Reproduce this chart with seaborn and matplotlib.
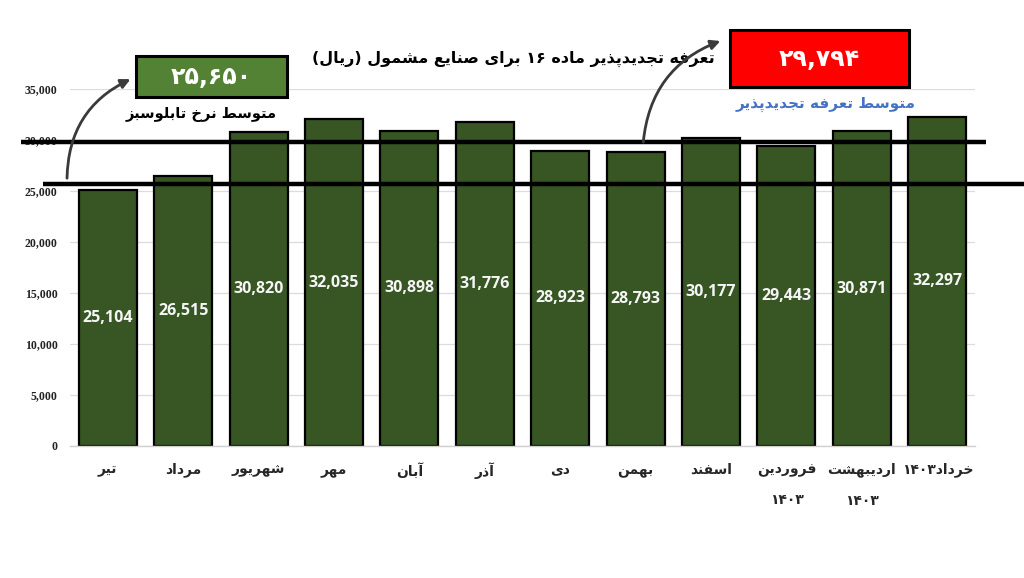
import matplotlib
matplotlib.use("Agg")
import matplotlib.pyplot as plt
import seaborn as sns
import pandas as pd
from matplotlib.patches import FancyArrowPatch, Rectangle

# ---------------- data ----------------
months = ["تیر", "مرداد", "شهریور", "مهر", "آبان", "آذر", "دی", "بهمن",
          "اسفند", "فروردین\n۱۴۰۳", "اردیبهشت\n۱۴۰۳", "خرداد۱۴۰۳"]
values = [25104, 26515, 30820, 32035, 30898, 31776, 28923, 28793,
          30177, 29443, 30871, 32297]
yticks = [0, 5000, 10000, 15000, 20000, 25000, 30000, 35000]
ytick_labels = ["0", "5,000", "10,000", "15,000", "20,000", "25,000", "30,000", "35,000"]
avg_green = 25650
avg_green_label = "۲۵,۶۵۰"
avg_red = 29794
avg_red_label = "۲۹,۷۹۴"
title = "تعرفه تجدیدپذیر ماده ۱۶ برای صنایع مشمول (ریال)"
green_caption = "متوسط نرخ تابلوسبز"
red_caption = "متوسط تعرفه تجدیدپذیر"

# ---------------- simple Persian shaping for display ----------------
FORMS = {
    "ا": ("\uFE8D", "\uFE8E", None, None),
    "آ": ("\uFE81", "\uFE82", None, None),
    "ب": ("\uFE8F", "\uFE90", "\uFE91", "\uFE92"),
    "پ": ("\uFB56", "\uFB57", "\uFB58", "\uFB59"),
    "ت": ("\uFE95", "\uFE96", "\uFE97", "\uFE98"),
    "ج": ("\uFE9D", "\uFE9E", "\uFE9F", "\uFEA0"),
    "خ": ("\uFEA5", "\uFEA6", "\uFEA7", "\uFEA8"),
    "د": ("\uFEA9", "\uFEAA", None, None),
    "ذ": ("\uFEAB", "\uFEAC", None, None),
    "ر": ("\uFEAD", "\uFEAE", None, None),
    "ز": ("\uFEAF", "\uFEB0", None, None),
    "س": ("\uFEB1", "\uFEB2", "\uFEB3", "\uFEB4"),
    "ش": ("\uFEB5", "\uFEB6", "\uFEB7", "\uFEB8"),
    "ص": ("\uFEB9", "\uFEBA", "\uFEBB", "\uFEBC"),
    "ط": ("\uFEC1", "\uFEC2", "\uFEC3", "\uFEC4"),
    "ع": ("\uFEC9", "\uFECA", "\uFECB", "\uFECC"),
    "ف": ("\uFED1", "\uFED2", "\uFED3", "\uFED4"),
    "ک": ("\uFB8E", "\uFB8F", "\uFB90", "\uFB91"),
    "ل": ("\uFEDD", "\uFEDE", "\uFEDF", "\uFEE0"),
    "م": ("\uFEE1", "\uFEE2", "\uFEE3", "\uFEE4"),
    "ن": ("\uFEE5", "\uFEE6", "\uFEE7", "\uFEE8"),
    "ه": ("\uFEE9", "\uFEEA", "\uFEEB", "\uFEEC"),
    "و": ("\uFEED", "\uFEEE", None, None),
    "ی": ("\uFBFC", "\uFBFD", "\uFBFE", "\uFBFF"),
}
LTR = set("0123456789۰۱۲۳۴۵۶۷۸۹,.")
MIRROR = {"(": ")", ")": "("}


def shape_line(s):
    out = []
    n = len(s)
    for i, ch in enumerate(s):
        if ch not in FORMS:
            out.append(ch)
            continue
        prev_j = i > 0 and s[i - 1] in FORMS and FORMS[s[i - 1]][2] is not None
        next_j = i < n - 1 and s[i + 1] in FORMS and FORMS[ch][2] is not None
        iso, fin, ini, med = FORMS[ch]
        if prev_j and next_j:
            out.append(med)
        elif prev_j:
            out.append(fin)
        elif next_j:
            out.append(ini)
        else:
            out.append(iso)
    shaped = "".join(out)
    # visual reorder: RTL, keeping number runs LTR
    runs = []
    for ch in shaped:
        is_ltr = ch in LTR
        if runs and runs[-1][0] == is_ltr:
            runs[-1][1].append(ch)
        else:
            runs.append([is_ltr, [ch]])
    vis = []
    for is_ltr, chars in reversed(runs):
        if is_ltr:
            vis.extend(chars)
        else:
            vis.extend(MIRROR.get(c, c) for c in reversed(chars))
    return "".join(vis)


def fa(s):
    return "\n".join(shape_line(line) for line in s.split("\n"))


# ---------------- figure ----------------
W, H = 1024, 578
sns.set_style("white")
plt.rcParams["font.family"] = ["DejaVu Sans"]
fig = plt.figure(figsize=(W / 100, H / 100), dpi=100)
ax = fig.add_axes([70 / W, 1 - 446 / H, 905 / W, (446 - 89) / H])


def px(x, y):
    return (x / W, 1 - y / H)


df = pd.DataFrame({"month": months, "value": values})
sns.barplot(data=df, x="month", y="value", color="#375623", saturation=1,
            edgecolor="black", linewidth=1.6, width=0.77, ax=ax, zorder=2)

ax.set_xlim(-0.5, len(months) - 0.5)
ax.set_ylim(0, 35000)
ax.set_yticks(yticks)
ax.set_yticklabels(ytick_labels, family="Liberation Serif", fontsize=8.5,
                   fontweight="bold", color="#222222")
ax.set_xticks(range(len(months)))
ax.set_xticklabels([fa(m) for m in months], fontsize=10, fontweight="bold",
                   linespacing=2.5, va="top")
ax.tick_params(axis="x", length=0, pad=12)
ax.tick_params(axis="y", length=0, pad=9)
ax.set_xlabel("")
ax.set_ylabel("")
ax.yaxis.grid(True, color="#dcdcdc", linewidth=0.9, zorder=0)
ax.set_axisbelow(True)
for side in ["top", "right", "left"]:
    ax.spines[side].set_visible(False)
ax.spines["bottom"].set_color("#d0d0d0")
ax.spines["bottom"].set_linewidth(1.0)

# value labels in the bars
for i, v in enumerate(values):
    ax.text(i, v / 2, f"{v:,}", ha="center", va="center", color="#f5f5f5",
            fontsize=11.5, fontweight="bold", family="Open Sans", zorder=4)

# average lines (extend past the axes)
ytr = ax.get_yaxis_transform()
ax.plot([(21 - 70) / 905, (986 - 70) / 905], [avg_red, avg_red], color="black",
        lw=3.2, transform=ytr, clip_on=False, zorder=5, solid_capstyle="butt")
ax.plot([(43 - 70) / 905, (1024 - 70) / 905], [avg_green, avg_green], color="black",
        lw=3.2, transform=ytr, clip_on=False, zorder=5, solid_capstyle="butt")

# title
fig.text(*px(513, 59), fa(title), ha="center", va="center", fontsize=11.5,
         fontweight="bold", color="black")

# green box
gx0, gy0, gx1, gy1 = 136, 56, 287, 97
fig.add_artist(Rectangle(px(gx0, gy1), (gx1 - gx0) / W, (gy1 - gy0) / H,
                         transform=fig.transFigure, facecolor="#548235",
                         edgecolor="black", linewidth=2.2, zorder=6))
fig.text(*px((gx0 + gx1) / 2, (gy0 + gy1) / 2), avg_green_label, ha="center",
         va="center", fontsize=17, fontweight="bold", color="white", zorder=7)
fig.text(*px(201, 114), fa(green_caption), ha="center", va="center",
         fontsize=10.5, fontweight="bold", color="black")

# red box
rx0, ry0, rx1, ry1 = 730, 30, 909, 87
fig.add_artist(Rectangle(px(rx0, ry1), (rx1 - rx0) / W, (ry1 - ry0) / H,
                         transform=fig.transFigure, facecolor="#ff0000",
                         edgecolor="black", linewidth=2.2, zorder=6))
fig.text(*px((rx0 + rx1) / 2, (ry0 + ry1) / 2), avg_red_label, ha="center",
         va="center", fontsize=17, fontweight="bold", color="white", zorder=7)
fig.text(*px(826, 104), fa(red_caption), ha="center", va="center",
         fontsize=11, fontweight="bold", color="#4472c4")

# curved arrows
for start, end in [((67, 181), (133, 78)), ((643, 145), (723, 40))]:
    arr = FancyArrowPatch(px(*start), px(*end), transform=fig.transFigure,
                          connectionstyle="arc3,rad=-0.32", arrowstyle="-|>",
                          mutation_scale=14, color="#3a3a3a", lw=2.0, zorder=8)
    fig.add_artist(arr)

fig.savefig("out.png", dpi=100, facecolor="white")
